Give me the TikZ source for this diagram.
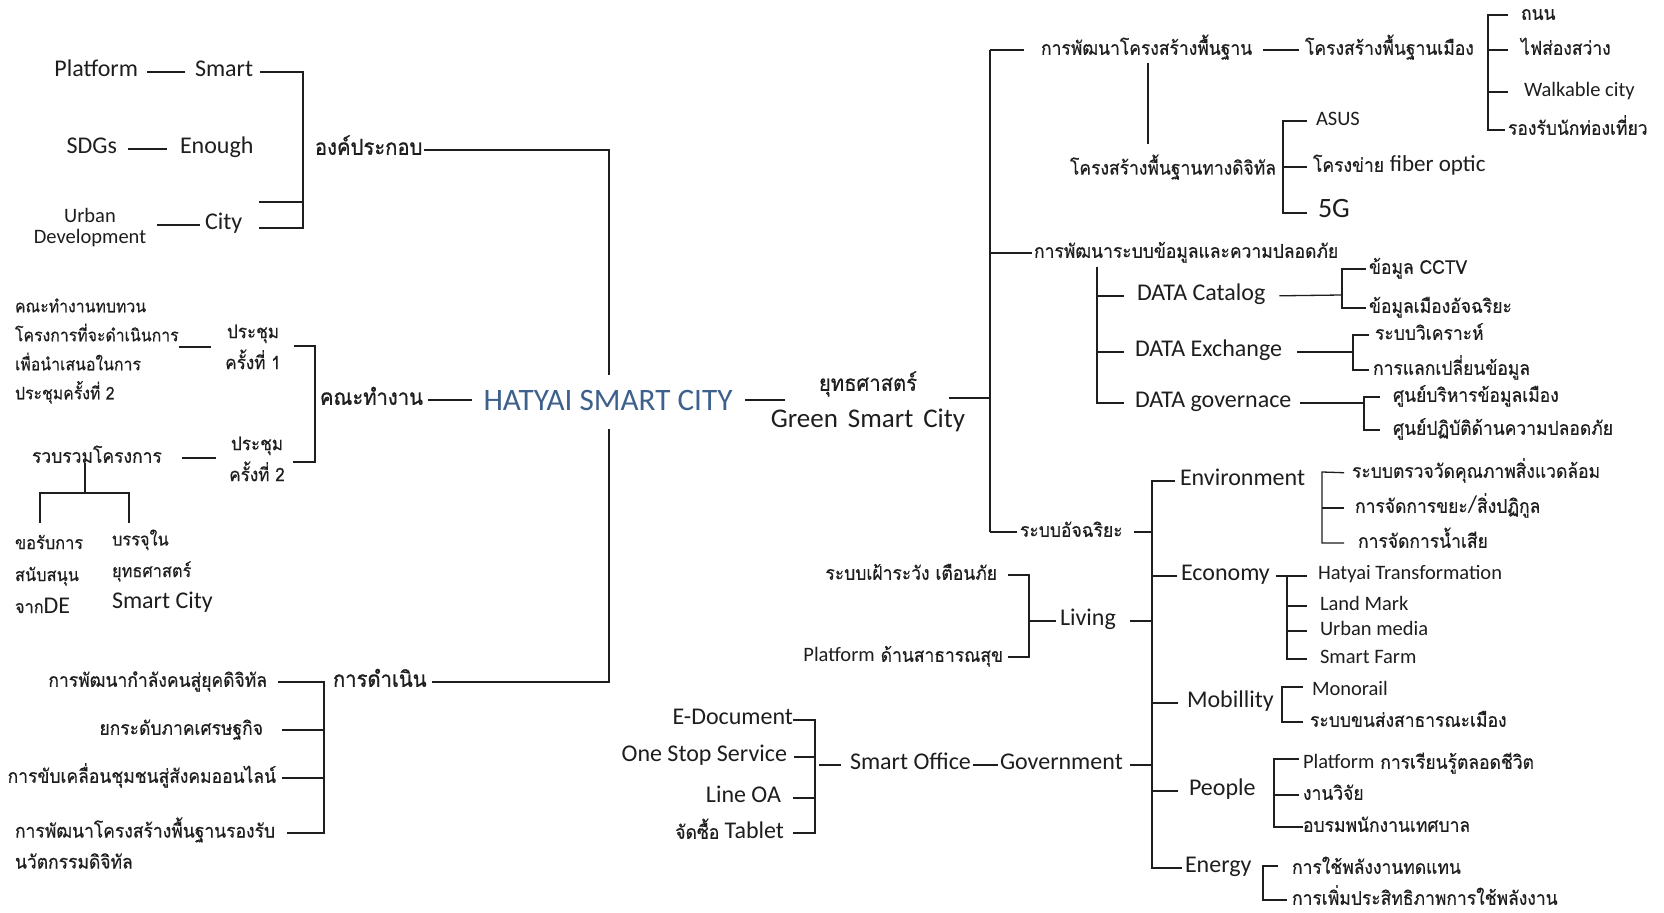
\documentclass[tikz,border=0pt]{standalone}
\usepackage{fontspec}
\setmainfont{Carlito}
\newfontfamily\thai[Script=Thai, FakeStretch=0.92, FakeBold=0.4]{Loma}
\newfontfamily\thaiB[Script=Thai, FakeStretch=0.92, FakeBold=1.0]{Loma}
\newcommand\latf{\rmfamily}
\usetikzlibrary{calc}
\definecolor{ink}{RGB}{30,30,30}
\definecolor{hyblue}{RGB}{62,96,140}
\begin{document}
\begin{tikzpicture}[x=0.5pt,y=-0.5pt,
  T/.style={inner sep=0pt, outer sep=0pt, text=ink},
  lb/.style={T, font=\fontsize{12}{14}\selectfont},
  ls/.style={T, font=\fontsize{10.25}{12}\selectfont},
  th/.style={T, font=\thai\fontsize{9.5}{14}\selectfont},
  thb/.style={T, font=\thaiB\fontsize{11}{14}\selectfont},
  ln/.style={draw=ink, line width=0.65pt}]
\useasboundingbox[fill=white] (0,0) rectangle (1664,913);

% ---------- left top: องค์ประกอบ
\node[lb, anchor=mid east] (plat) at (138,72) {Platform};
\node[lb, anchor=mid west] (smart) at (195,72) {Smart};
\draw[ln, shorten <=4.5pt, shorten >=5pt] (plat.mid east) -- (smart.mid west);
\node[lb, anchor=mid east] (sdgs) at (117,149) {SDGs};
\node[lb, anchor=mid west] (enough) at (180,149) {Enough};
\draw[ln, shorten <=5.5pt, shorten >=6.5pt] (sdgs.mid east) -- (enough.mid west);
\node[T, align=center, font=\fontsize{10.25}{10.5}\selectfont] (urban) at (90,228) {Urban\\Development};
\node[lb, anchor=mid west] (city) at (205,225) {City};
\draw[ln, shorten <=5.5pt, shorten >=2.5pt] (urban.east |- city.mid west) -- (city.mid west);
\coordinate (kA) at (303,72);
\coordinate (kB) at (303,228);
\coordinate (kC) at (259,202);
\draw[ln, shorten <=3.5pt, shorten >=8.5pt] (smart.mid east) -| (kB) -- (kB -| city.mid east);
\draw[ln] (kC) -- (kC -| kA);
\node[thb, anchor=mid west] (ongk) at (315,150) {องค์ประกอบ};
\coordinate (cTop) at (609,150);
\coordinate (cUp) at (609,375);
\draw[ln, shorten <=1pt] (ongk.mid east |- cTop) -- (cTop) -- (cUp);

% ---------- left middle: คณะทำงาน
\node[T, align=left, anchor=west, font=\thai\fontsize{8.6}{14.5}\selectfont] (kn) at (15,351) {คณะทำงานทบทวน\\โครงการที่จะดำเนินการ\\เพื่อนำเสนอในการ\\ประชุมครั้งที่ 2};
\node[T, align=center, font=\thai\fontsize{9.3}{15.5}\selectfont] (m1) at (253,347) {ประชุม\\ครั้งที่ 1};
\node[T, align=center, font=\thai\fontsize{9.3}{15.5}\selectfont] (m2) at (257,459) {ประชุม\\ครั้งที่ 2};
\draw[ln, shorten >=7pt] (m1.west -| kn.east) -- (m1.west);
\coordinate (kT) at (315,346);
\coordinate (kTb) at (315,462);
\draw[ln, shorten <=6.5pt, shorten >=4pt] (m1.east |- kT) -- (kT) -- (kTb) -- (kTb -| m2.east);
\node[thb, anchor=mid west] (kt) at (320,400) {คณะทำงาน};
\node[T, font=\fontsize{15.6}{18}\selectfont, text=hyblue] (hy) at (608,400) {HATYAI SMART CITY};
\draw[ln, shorten <=2.5pt, shorten >=6pt] (kt.mid east) -- (kt.mid east -| hy.west);
\node[th, anchor=mid west] (rw) at (32,458) {รวบรวมโครงการ};
\draw[ln, shorten <=10pt, shorten >=6.5pt] (rw.mid east) -- (rw.mid east -| m2.west);
\coordinate (rwd) at (85,493);
\coordinate (rwl) at (40,523);
\coordinate (rwr) at (129,523);
\draw[ln] (rwd |- rw.south) -- (rwd);
\draw[ln] (rwl) |- (rwd) -| (rwr);
\node[T, align=left, anchor=west, font=\thai\fontsize{8.9}{16}\selectfont] (ko) at (15,574) {ขอรับการ\\สนับสนุน\\จาก{\latf\fontsize{12}{16}\selectfont DE}};
\node[T, align=left, anchor=west, font=\thai\fontsize{8.9}{15.75}\selectfont] (bj) at (112,571) {บรรจุใน\\ยุทธศาสตร์\\{\latf\fontsize{12}{15.75}\selectfont Smart City}};

% ---------- left bottom: การดำเนิน
\node[th, anchor=mid east] (d1) at (267,682) {การพัฒนากำลังคนสู่ยุคดิจิทัล};
\node[thb, anchor=mid west] (dn) at (333,682) {การดำเนิน};
\node[th, anchor=mid east] (d2) at (263,730) {ยกระดับภาคเศรษฐกิจ};
\node[th, anchor=mid east] (d3) at (276,778) {การขับเคลื่อนชุมชนสู่สังคมออนไลน์};
\node[T, align=left, anchor=west, font=\thai\fontsize{9.5}{15.5}\selectfont] (d4) at (15,843) {การพัฒนาโครงสร้างพื้นฐานรองรับ\\นวัตกรรมดิจิทัล};
\coordinate (kD) at (324,682);
\coordinate (kDb) at (324,833);
\draw[ln, shorten <=5.5pt, shorten >=6pt] (d1.mid east) -| (kDb) -- (kDb -| d4.east);
\draw[ln, shorten <=9.5pt] (d2.mid east) -- (d2.mid east -| kD);
\draw[ln, shorten <=3pt] (d3.mid east) -- (d3.mid east -| kD);
\coordinate (cLo) at (609,429);
\draw[ln, shorten <=2.5pt] (dn.mid east) -- (dn.mid east -| cLo) -- (cLo);

% ---------- centre right: ยุทธศาสตร์
\node[T, font=\thai\fontsize{11}{14}\selectfont] (ys1) at (868,384) {ยุทธศาสตร์};
\node[T, font=\fontsize{13.5}{16}\selectfont] (ys2) at (868,420) {Green\hspace{5pt}Smart\hspace{5pt}City};
\draw[ln, shorten <=6.5pt, shorten >=17pt] (hy.east) -- (hy.east -| ys1.west);
\coordinate (sp) at (990,398);
\coordinate (spT) at (990,50);
\coordinate (spB) at (990,532);
\draw[ln, shorten <=16pt] (ys1.east |- sp) -- (sp);
\draw[ln] (spT) -- (spB);

% ---------- right A: โครงสร้างพื้นฐาน
\node[th, anchor=mid west] (pA) at (1041,50) {การพัฒนาโครงสร้างพื้นฐาน};
\draw[ln, shorten >=8.5pt] (spT) -- (spT -| pA.west);
\node[th, anchor=mid west] (pA1) at (1305,50) {โครงสร้างพื้นฐานเมือง};
\draw[ln, shorten <=5.5pt, shorten >=3pt] (pA.mid east) -- (pA1.mid west);
\coordinate (kE) at (1488,15);
\node[th, anchor=mid west] (e1) at (1521,15) {ถนน};
\node[th, anchor=mid west] (e2) at (1521,50) {ไฟส่องสว่าง};
\node[ls, anchor=mid west] (e3) at (1524,92) {Walkable city};
\node[th, anchor=mid west] (e4) at (1508,130) {รองรับนักท่องเที่ยว};
\draw[ln, shorten <=1.5pt, shorten >=6.5pt] (e4.mid west) -| (kE) -- (e1.mid west);
\draw[ln, shorten >=6.5pt] (e2.mid west -| kE) -- (e2.mid west);
\draw[ln, shorten >=8pt] (e3.mid west -| kE) -- (e3.mid west);
\node[th] (pA2) at (1173,167) {โครงสร้างพื้นฐานทางดิจิทัล};
\coordinate (vA) at (1148,100);
\draw[ln, shorten <=1.5pt, shorten >=5pt] (pA.south -| vA) -- (pA2.north -| vA);
\coordinate (kF) at (1283,121);
\node[ls, anchor=mid west] (f1) at (1316,121) {ASUS};
\node[th, anchor=mid west] (f2) at (1313,167) {โครงข่าย {\latf\fontsize{11.5}{14}\selectfont fiber optic}};
\node[T, anchor=mid west, font=\fontsize{14}{16}\selectfont] (f3) at (1318,213) {5G};
\draw[ln, shorten <=5.5pt, shorten >=4.5pt] (f3.mid west) -| (kF) -- (f1.mid west);
\draw[ln, shorten >=3pt] (f2.mid west -| kF) -- (f2.mid west);

% ---------- right B: ข้อมูล
\node[th, anchor=mid west] (pB) at (1034,253) {การพัฒนาระบบข้อมูลและความปลอดภัย};
\draw[ln, shorten >=1pt] (spT |- pB.mid west) -- (pB.mid west);
\coordinate (kG) at (1097,403);
\node[lb, anchor=mid west] (g1) at (1137,296) {DATA Catalog};
\node[lb, anchor=mid west] (g2) at (1135,352) {DATA Exchange};
\node[lb, anchor=mid west] (g3) at (1135,403) {DATA governace};
\draw[ln, shorten <=2pt, shorten >=5.5pt] (pB.south -| kG) |- (g3.mid west);
\draw[ln, shorten >=6.5pt] (g1.mid west -| kG) -- (g1.mid west);
\draw[ln, shorten >=5.5pt] (g2.mid west -| kG) -- (g2.mid west);
\coordinate (kH) at (1342,269);
\coordinate (kHm) at (1342,295);
\node[th, anchor=mid west] (h1) at (1369,269) {ข้อมูล CCTV};
\node[th, anchor=mid west] (h2) at (1369,308) {ข้อมูลเมืองอัจฉริยะ};
\draw[ln, shorten <=7pt] (g1.mid east) -- (kHm);
\draw[ln, shorten <=1.5pt, shorten >=1.5pt] (h2.mid west) -| (kH) -- (h1.mid west);
\coordinate (kI) at (1353,335);
\node[th, anchor=mid west] (i1) at (1375,335) {ระบบวิเคราะห์};
\node[th, anchor=mid west] (i2) at (1373,370) {การแลกเปลี่ยนข้อมูล};
\draw[ln, shorten <=7.5pt] (g2.mid east) -- (g2.mid east -| kI);
\draw[ln, shorten <=2pt, shorten >=3pt] (i2.mid west) -| (kI) -- (i1.mid west);
\coordinate (kJ) at (1364,397);
\node[th, anchor=mid west] (j1) at (1393,397) {ศูนย์บริหารข้อมูลเมือง};
\node[th, anchor=mid west] (j2) at (1393,430) {ศูนย์ปฏิบัติด้านความปลอดภัย};
\draw[ln, shorten <=4.5pt] (g3.mid east) -- (g3.mid east -| kJ);
\draw[ln, shorten <=6.5pt, shorten >=6.5pt] (j2.mid west) -| (kJ) -- (j1.mid west);

% ---------- right C: ระบบอัจฉริยะ
\node[th, anchor=mid west] (rs) at (1020,532) {ระบบอัจฉริยะ};
\draw[ln, shorten >=1.5pt] (spB) -- (rs.mid west);
\coordinate (kK) at (1152,480);
\coordinate (kKb) at (1152,868);
\draw[ln, shorten <=5.5pt] (rs.mid east) -- (rs.mid east -| kK);
\node[lb, anchor=mid west] (env) at (1180,481) {Environment};
\node[lb, anchor=mid west] (eco) at (1181,576) {Economy};
\node[lb, anchor=mid west] (mob) at (1187,703) {Mobillity};
\node[lb, anchor=mid west] (gov) at (1000,765) {Government};
\node[lb, anchor=mid west] (ppl) at (1189,791) {People};
\node[lb, anchor=mid west] (eng) at (1185,868) {Energy};
\node[lb, anchor=mid west] (liv) at (1060,621) {Living};
\draw[ln, shorten <=2.5pt, shorten >=1.5pt] (env.mid west) -| (kKb) -- (eng.mid west);
\draw[ln, shorten >=2pt] (eco.mid west -| kK) -- (eco.mid west);
\draw[ln, shorten >=4.5pt] (mob.mid west -| kK) -- (mob.mid west);
\draw[ln, shorten >=5.5pt] (ppl.mid west -| kK) -- (ppl.mid west);
\draw[ln, shorten <=3.5pt] (gov.mid east) -- (gov.mid east -| kK);
\draw[ln, shorten <=7pt] (liv.mid east) -- (liv.mid east -| kK);

% Environment
\coordinate (kL) at (1322,472);
\node[th, anchor=mid west] (l1) at (1352,473) {ระบบตรวจวัดคุณภาพสิ่งแวดล้อม};
\node[th, anchor=mid west] (l2) at (1355,508) {การจัดการขยะ{\latf\fontsize{12}{14}\selectfont /}สิ่งปฏิกูล};
\node[th, anchor=mid west] (l3) at (1358,543) {การจัดการน้ำเสีย};
\draw[ln, shorten <=7pt, shorten >=4pt] (l3.mid west) -| (kL) -- (l1.mid west);
\draw[ln, shorten >=5.5pt] (l2.mid west -| kL) -- (l2.mid west);

% Economy
\coordinate (kM) at (1287,575);
\node[ls, anchor=mid west] (ec1) at (1318,575) {Hatyai Transformation};
\node[ls, anchor=mid west] (ec2) at (1320,606) {Land Mark};
\node[ls, anchor=mid west] (ec3) at (1320,631) {Urban media};
\node[ls, anchor=mid west] (ec4) at (1320,659) {Smart Farm};
\draw[ln, shorten <=3pt, shorten >=5.5pt] (eco.mid east) -- (eco.mid east -| ec1.mid west);
\draw[ln, shorten >=6.5pt] (kM) |- (ec4.mid west);
\draw[ln, shorten >=6.5pt] (ec2.mid west -| kM) -- (ec2.mid west);
\draw[ln, shorten >=6.5pt] (ec3.mid west -| kM) -- (ec3.mid west);

% Living
\coordinate (kN) at (1029,575);
\coordinate (kNb) at (1029,657);
\node[th, anchor=mid east] (lv1) at (997,575) {ระบบเฝ้าระวัง เตือนภัย};
\node[th, anchor=mid east] (lv2) at (1003,657) {{\latf\fontsize{10.25}{12}\selectfont Platform} ด้านสาธารณสุข};
\draw[ln, shorten <=5.5pt, shorten >=2.5pt] (lv1.mid east) -| (kNb) -- (kNb -| lv2.mid east);
\draw[ln, shorten >=2pt] (liv.mid west -| kN) -- (liv.mid west);

% Mobillity
\coordinate (kO) at (1282,687);
\node[ls, anchor=mid west] (mo1) at (1312,691) {Monorail};
\node[th, anchor=mid west] (mo2) at (1310,722) {ระบบขนส่งสาธารณะเมือง};
\draw[ln, shorten <=3.5pt, shorten >=4.5pt] (mo2.mid west) -| (kO) -- (kO -| mo1.mid west);

% Government
\node[lb, anchor=mid west] (so) at (850,765) {Smart Office};
\draw[ln, shorten <=1pt, shorten >=1pt] (so.mid east) -- (gov.mid west);
\coordinate (kP) at (815,721);
\coordinate (kPb) at (815,833);
\draw[ln, shorten <=2pt, shorten >=4.5pt] (kP |- so.mid west) -- (so.mid west);
\node[lb, anchor=mid east] (ed) at (793,720) {E-Document};
\node[lb, anchor=mid east] (os) at (787,757) {One Stop Service};
\node[lb, anchor=mid east] (lo) at (781,798) {Line OA};
\node[lb, anchor=mid east] (tb) at (784,834) {{\thai\fontsize{9.5}{14}\selectfont จัดซื้อ} Tablet};
\draw[ln, shorten >=4.5pt] (ed.mid east) -| (kPb) -- (kPb -| tb.mid east);
\draw[ln, shorten <=3.5pt] (os.mid east) -- (os.mid east -| kP);
\draw[ln, shorten <=6pt] (lo.mid east) -- (lo.mid east -| kP);

% People
\coordinate (kQ) at (1274,759);
\node[T, anchor=mid west, font=\thai\fontsize{9.5}{14}\selectfont] (pp1) at (1303,764) {{\latf\fontsize{10.25}{12}\selectfont Platform} การเรียนรู้ตลอดชีวิต};
\node[th, anchor=mid west] (pp2) at (1303,795) {งานวิจัย};
\node[th, anchor=mid west] (pp3) at (1303,827) {อบรมพนักงานเทศบาล};
\draw[ln, shorten >=2pt] (pp3.mid west) -| (kQ) -- (kQ -| pp1.west);
\draw[ln, shorten >=2pt] (pp2.mid west -| kQ) -- (pp2.mid west);

% Energy
\coordinate (kR) at (1263,866);
\node[th, anchor=mid west] (en1) at (1292,869) {การใช้พลังงานทดแทน};
\node[th, anchor=mid west] (en2) at (1292,900) {การเพิ่มประสิทธิภาพการใช้พลังงาน};
\draw[ln, shorten <=7pt, shorten >=2.5pt] (kR -| en1.mid west) -- (kR) |- (en2.mid west);
\end{tikzpicture}
\end{document}
